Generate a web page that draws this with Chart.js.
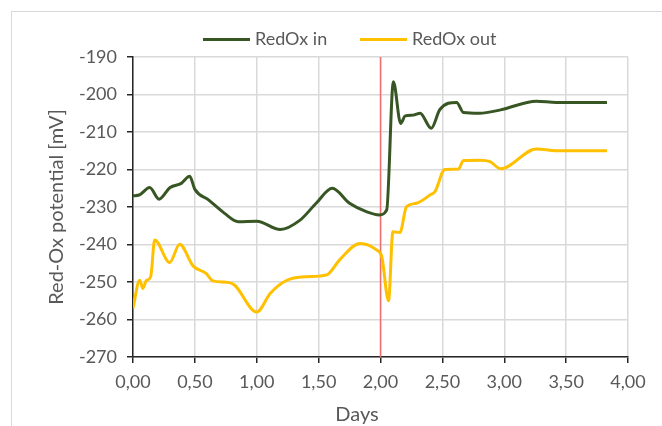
<!DOCTYPE html>
<html lang="en">
<head>
    <meta charset="UTF-8">
    <title>RedOx potential</title>
    <script src="https://cdn.jsdelivr.net/npm/chart.js"></script>
    <style>
        body { margin: 0; background: #fff; font-family: Lato, sans-serif; }
        #wrap { position: relative; width: 662px; height: 426px; overflow: hidden; }
        #frame { position: absolute; left: 11px; top: 11px; width: 700px; height: 460px; border: 1px solid #d9d9d9; }
        .leg { position: absolute; top: 27px; font-size: 18px; color: #595959; line-height: 22px; white-space: nowrap; }
        .sw { display: inline-block; width: 47px; height: 3px; vertical-align: middle; margin-right: 5px; position: relative; top: -1px; }
        #xtitle { position: absolute; left: 332px; width: 50px; top: 401px; text-align: center; font-size: 20px; line-height: 24px; color: #595959; }
    </style>
</head>
<body>
<div id="wrap">
    <div id="frame"></div>
    <canvas id="redoxChart"></canvas>
    <div class="leg" style="left:203px"><span class="sw" style="background:#375623"></span>RedOx in</div>
    <div class="leg" style="left:360px"><span class="sw" style="background:#ffc000"></span>RedOx out</div>
    <div id="xtitle">Days</div>
</div>

<script>
    // RedOx in (green)
    const inDays = [0.00, 0.05, 0.135, 0.21, 0.30, 0.39, 0.458, 0.50, 0.61, 0.74, 0.85, 1.00, 1.19, 1.35, 1.48, 1.61, 1.75, 1.89, 1.99, 2.05, 2.104, 2.163, 2.20, 2.265, 2.32, 2.41, 2.48, 2.615, 2.67, 2.80, 2.97, 3.26, 3.42, 3.83];
    const inValues = [-227, -226.8, -224.8, -227.9, -224.8, -223.7, -221.8, -225.3, -228.1, -231.7, -233.9, -233.8, -236, -233.5, -229, -225, -229, -231.3, -232.1, -230.8, -196.6, -207.7, -205.7, -205.5, -205, -209, -204, -202.1, -204.8, -205, -204.1, -201.8, -202.1, -202.1];

    // RedOx out (yellow)
    const outDays = [0.00, 0.054, 0.08, 0.108, 0.143, 0.175, 0.297, 0.377, 0.485, 0.59, 0.646, 0.768, 0.82, 1.00, 1.11, 1.24, 1.40, 1.565, 1.67, 1.834, 1.97, 2.01, 2.065, 2.10, 2.157, 2.21, 2.29, 2.40, 2.44, 2.52, 2.63, 2.67, 2.80, 2.885, 2.97, 3.26, 3.42, 3.83];
    const outValues = [-257, -249.5, -251.7, -249.6, -248.6, -238.8, -244.8, -239.9, -245.7, -247.7, -249.7, -250.1, -250.8, -258, -253, -249.6, -248.6, -248.1, -244.1, -239.7, -241.5, -243.2, -255, -236.6, -236.8, -229.9, -229, -226.8, -225.9, -220, -219.9, -217.6, -217.5, -217.9, -219.8, -214.5, -215, -215];

    // red marker line at day 2
    const markerDay = 2;
    const yMin = -270, yMax = -190;

    function toPoints(xs, ys) {
        return xs.map((x, i) => ({ x: x, y: ys[i] }));
    }

    const tickFont = { family: 'Lato', size: 18 };
    const labelColor = '#595959';

    const ctx = document.getElementById('redoxChart').getContext('2d');
    new Chart(ctx, {
        type: 'line',
        data: {
            datasets: [{
                label: 'RedOx in',
                data: toPoints(inDays, inValues),
                borderColor: '#375623',
                borderWidth: 3,
                pointRadius: 0,
                cubicInterpolationMode: 'monotone',
                order: 1
            }, {
                label: 'RedOx out',
                data: toPoints(outDays, outValues),
                borderColor: '#ffc000',
                borderWidth: 3,
                pointRadius: 0,
                cubicInterpolationMode: 'monotone',
                order: 2
            }, {
                label: 'marker',
                data: [{ x: markerDay, y: yMin }, { x: markerDay, y: yMax }],
                borderColor: '#ef6f6f',
                borderWidth: 1.5,
                pointRadius: 0,
                tension: 0,
                order: 10
            }]
        },
        options: {
            responsive: true,
            maintainAspectRatio: false,
            animation: false,
            layout: { padding: { top: 57, right: 34, left: 0, bottom: 0 } },
            plugins: {
                legend: { display: false },
                tooltip: { enabled: false }
            },
            scales: {
                x: {
                    type: 'linear',
                    min: 0,
                    max: 4,
                    afterFit: s => { s.height = 69; },
                    ticks: {
                        stepSize: 0.5,
                        color: labelColor,
                        font: tickFont,
                        padding: 8,
                        maxRotation: 0,
                        callback: v => v.toFixed(2).replace('.', ',')
                    },
                    grid: { color: '#d9d9d9', lineWidth: 1.5, tickLength: 6, tickColor: '#262626', tickWidth: 1.5 },
                    border: { color: '#262626', width: 1.5 }
                },
                y: {
                    min: yMin,
                    max: yMax,
                    afterFit: s => { s.width = 133; },
                    ticks: { stepSize: 10, color: labelColor, font: tickFont, padding: 10 },
                    grid: { color: '#d9d9d9', lineWidth: 1.5, tickLength: 6, tickColor: '#262626', tickWidth: 1.5 },
                    border: { color: '#262626', width: 1.5 },
                    title: { display: true, text: 'Red-Ox potential [mV]', color: labelColor, font: { family: 'Lato', size: 20 }, padding: { top: 45, bottom: 0 } }
                }
            }
        }
    });
</script>
</body>
</html>
